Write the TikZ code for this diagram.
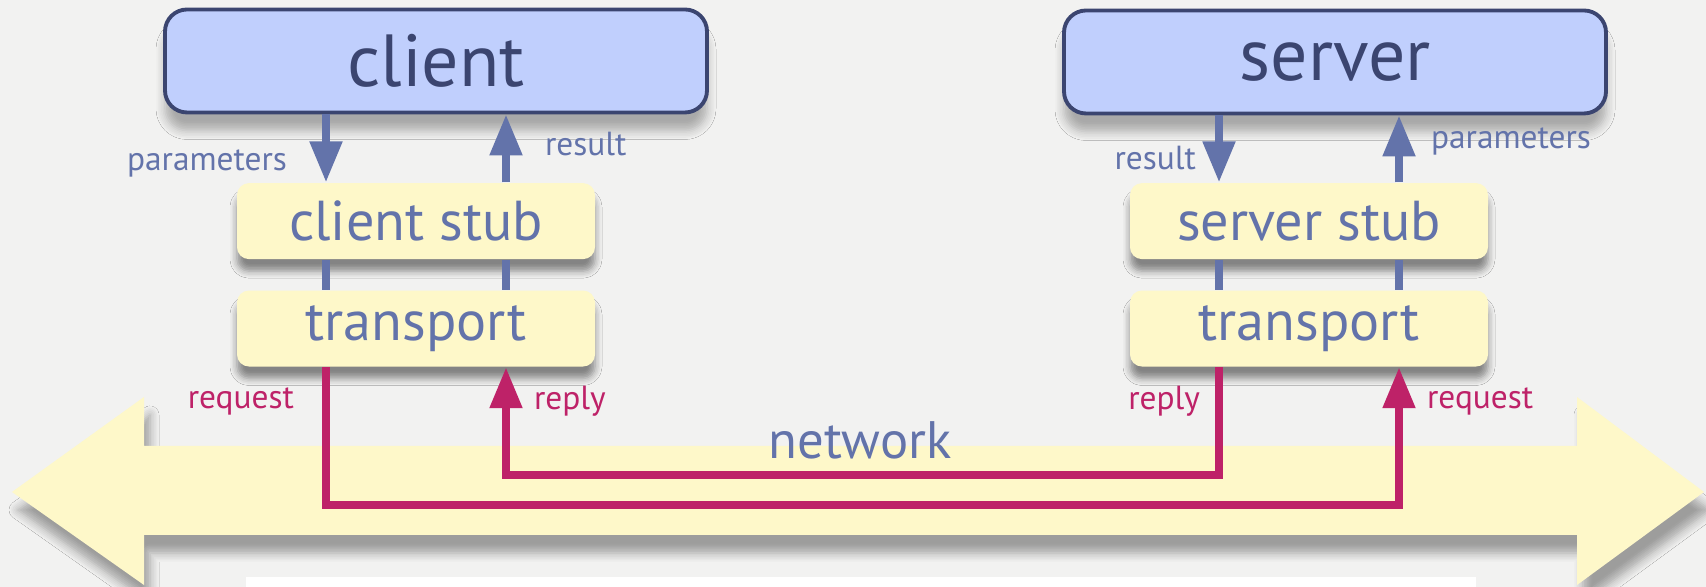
\documentclass[tikz,border=0pt]{standalone}
\usepackage{fontspec}
\setmainfont{PT Sans}
\usetikzlibrary{positioning, arrows.meta, shadows.blur}
\definecolor{paper}{HTML}{F2F2F1}
\definecolor{hostblue}{HTML}{C0CFFD}
\definecolor{navy}{HTML}{3B4570}
\definecolor{layeryellow}{HTML}{FEF8C9}
\definecolor{slate}{HTML}{6373AA}
\definecolor{wine}{HTML}{BE2268}
\tikzstyle{host} = [rectangle, rounded corners=2.2mm, minimum width=5.42cm, minimum height=1.03cm, inner sep=0pt, text centered, draw=navy, line width=1.1pt, fill=hostblue, text=navy, font=\fontsize{21}{24}\selectfont, blur shadow={shadow xshift=0mm, shadow yshift=-1.8mm, shadow opacity=30, shadow blur radius=0.9mm, shadow blur steps=6}]
\tikzstyle{layer} = [rectangle, rounded corners=1.2mm, minimum width=3.58cm, minimum height=0.76cm, inner sep=0pt, text centered, fill=layeryellow, text=slate, font=\fontsize{16}{18}\selectfont, blur shadow={shadow xshift=0mm, shadow yshift=-1.2mm, shadow opacity=45, shadow blur radius=0.7mm, shadow blur steps=5}]
\tikzstyle{call} = [line width=2.3pt, draw=slate, ->, >={Triangle[length=4.1mm, width=3.1mm]}]
\tikzstyle{link} = [line width=2.3pt, draw=slate]
\tikzstyle{wire} = [line width=2.3pt, draw=wine, ->, >={Triangle[length=4.1mm, width=3.1mm]}]
\tikzstyle{tag} = [inner sep=0pt, font=\fontsize{9.5}{11}\selectfont]

\begin{document}
\begin{tikzpicture}
	\useasboundingbox (0,0) rectangle (17.06,5.87);
	\fill [paper] (0,0) rectangle (17.06,5.87);
	% network
	\fill [layeryellow, blur shadow={shadow xshift=0.6mm, shadow yshift=-1.8mm, shadow opacity=35, shadow blur radius=0.9mm, shadow blur steps=6}]
		(0.12,0.95) -- (1.44,1.90) -- (1.44,1.41) -- (15.77,1.41) -- (15.77,1.90) -- (17.04,0.95)
		-- (15.77,0.02) -- (15.77,0.52) -- (1.44,0.52) -- (1.44,0.02) -- cycle;
	\fill [white] (2.46,0) rectangle (14.76,0.10);
	\node (net) [text=slate, font=\fontsize{15}{17}\selectfont] at (8.6,1.47) {network};
	\coordinate (reqbus) at (0,0.82);
	\coordinate (repbus) at (0,1.12);
	% hosts and layers
	\node (client) [host] at (4.36,5.26) {client};
	\node (cstub) [layer, below=0.68cm of client, xshift=-2mm] {client stub};
	\node (ctrans) [layer, below=0.3cm of cstub] {transport};
	\node (server) [host] at (13.35,5.25) {server};
	\node (sstub) [layer, below=0.67cm of server, xshift=-2.6mm] {server stub};
	\node (strans) [layer, below=0.3cm of sstub] {transport};
	% client side
	\draw [call] ([xshift=-9mm]cstub.north |- client.south) -- node (cpar) [tag, text=slate, left=3.5mm, pos=0.72] {parameters} ([xshift=-9mm]cstub.north);
	\draw [call] ([xshift=9mm]cstub.north) -- node (cres) [tag, text=slate, right=3.5mm, pos=0.57] {result} ([xshift=9mm]cstub.north |- client.south);
	\draw [link] ([xshift=-9mm]cstub.south) -- ([xshift=-9mm]ctrans.north);
	\draw [link] ([xshift=9mm]cstub.south) -- ([xshift=9mm]ctrans.north);
	% server side
	\draw [call] ([xshift=-9mm]sstub.north |- server.south) -- node (sres) [tag, text=slate, left=1.9mm, pos=0.64] {result} ([xshift=-9mm]sstub.north);
	\draw [call] ([xshift=9mm]sstub.north) -- node (spar) [tag, text=slate, right=2.8mm, pos=0.61] {parameters} ([xshift=9mm]sstub.north |- server.south);
	\draw [link] ([xshift=-9mm]sstub.south) -- ([xshift=-9mm]strans.north);
	\draw [link] ([xshift=9mm]sstub.south) -- ([xshift=9mm]strans.north);
	% messages
	\draw [wire] ([xshift=-9mm]ctrans.south) -- node (creq) [tag, text=wine, left=2.8mm, pos=0.25] {request} ([xshift=-9mm]ctrans.south |- reqbus) -| node (sreq) [tag, text=wine, right=2.4mm, pos=0.875] {request} ([xshift=9mm]strans.south);
	\draw [wire] ([xshift=-9mm]strans.south) -- node (srep) [tag, text=wine, left=1.5mm, pos=0.32] {reply} ([xshift=-9mm]strans.south |- repbus) -| node (crep) [tag, text=wine, right=2.4mm, pos=0.84] {reply} ([xshift=9mm]ctrans.south);
\end{tikzpicture}
\end{document}
